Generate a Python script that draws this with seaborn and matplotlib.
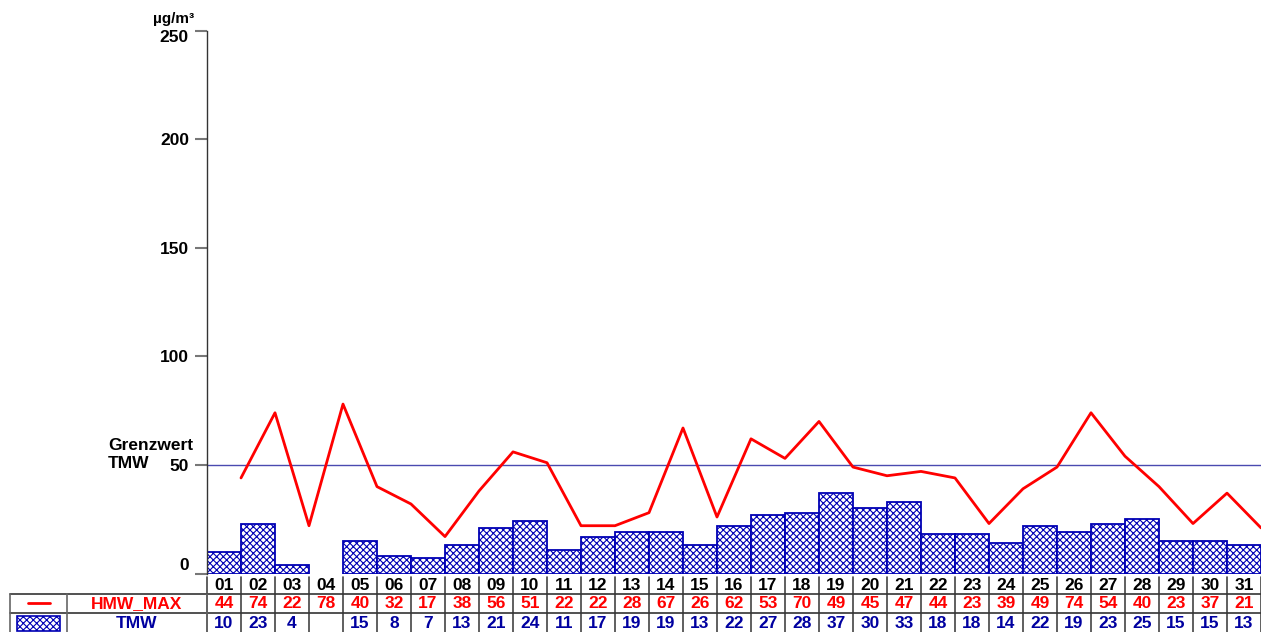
import numpy as np
import pandas as pd
import matplotlib
matplotlib.use("Agg")
import matplotlib.pyplot as plt
import seaborn as sns
from matplotlib.transforms import blended_transform_factory
from matplotlib.patches import Rectangle

# ---------------- data ----------------
days = list(range(1, 32))
day_labels = [f"{d:02d}" for d in days]
hmw_max = [44, 74, 22, 78, 40, 32, 17, 38, 56, 51, 22, 22, 28, 67, 26, 62,
           53, 70, 49, 45, 47, 44, 23, 39, 49, 74, 54, 40, 23, 37, 21]
tmw = [10, 23, 4, np.nan, 15, 8, 7, 13, 21, 24, 11, 17, 19, 19, 13, 22,
       27, 28, 37, 30, 33, 18, 18, 14, 22, 19, 23, 25, 15, 15, 13]
limit_value = 50
y_ticks = [0, 50, 100, 150, 200, 250]
unit_label = "µg/m³"
limit_label_lines = ["Grenzwert", "TMW"]
series_names = ["HMW_MAX", "TMW"]

# ---------------- style ----------------
sns.set_style("white")
plt.rcParams["font.family"] = ["Liberation Sans", "DejaVu Sans"]
plt.rcParams["font.weight"] = "bold"
plt.rcParams["hatch.linewidth"] = 0.8
plt.rcParams["text.color"] = "black"

RED = "#ff0000"
BLUE_TXT = "#0000a0"
BAR_EDGE = "#0000b4"
FS = 12.5
W, H = 1261, 632

def fy(px):
    return 1 - px / H

def fx(px):
    return px / W

fig = plt.figure(figsize=(W / 100, H / 100), dpi=100)
ax = fig.add_axes([fx(207), fy(573.5), 1 - fx(207), fy(30.5) - fy(573.5)])

df = pd.DataFrame({"day": days, "tmw": tmw})
sns.barplot(data=df, x="day", y="tmw", native_scale=True, width=1,
            color="white", saturation=1, edgecolor=BAR_EDGE, linewidth=1.3,
            hatch="xxxxx", errorbar=None, ax=ax)
for p in ax.patches:
    p.set_zorder(2)

sns.lineplot(x=np.array(days) + 0.5, y=hmw_max, color=RED, lw=2, ax=ax, zorder=3)
ax.axhline(limit_value, color="#4a4ab0", lw=1, zorder=1)

ax.set_xlim(0.5, 31.5)
ax.set_ylim(0, 250)
ax.set_xticks([])
ax.set_yticks(y_ticks)
ax.set_yticklabels([str(t) for t in y_ticks])
ax.set_xlabel("")
ax.set_ylabel("")
for s in ["top", "right", "bottom"]:
    ax.spines[s].set_visible(False)
ax.spines["left"].set_color("#333333")
ax.spines["left"].set_linewidth(1)
ax.tick_params(axis="y", direction="out", length=9, width=1.5, color="#777777",
               labelsize=FS, labelcolor="black", pad=4, left=True)
labels = ax.get_yticklabels()
labels[0].set_va("bottom")
labels[-1].set_va("top")

fig.text(fx(174), fy(19), unit_label, ha="center", va="center", fontsize=11,
         fontweight="bold", color="black")
fig.text(fx(108), fy(446), limit_label_lines[0], ha="left", va="center",
         fontsize=FS, fontweight="bold", color="black")
fig.text(fx(108), fy(464), limit_label_lines[1], ha="left", va="center",
         fontsize=FS, fontweight="bold", color="black")

# ---------------- table ----------------
tr = blended_transform_factory(ax.transData, fig.transFigure)
for d, lab, h, t in zip(days, day_labels, hmw_max, tmw):
    ax.text(d, fy(585), lab, transform=tr, ha="center", va="center",
            fontsize=FS, fontweight="bold", color="black", clip_on=False)
    ax.text(d, fy(604), str(h), transform=tr, ha="center", va="center",
            fontsize=FS, fontweight="bold", color=RED, clip_on=False)
    if not np.isnan(t):
        ax.text(d, fy(623), str(int(t)), transform=tr, ha="center", va="center",
                fontsize=FS, fontweight="bold", color=BLUE_TXT, clip_on=False)

# column separators
for d in range(0, 32):
    ax.plot([d + 0.5, d + 0.5], [fy(577), fy(632)], transform=tr, color="#444444",
            lw=1.2, clip_on=False)

# horizontal rules
for ypx in [593.5, 613]:
    fig.add_artist(plt.Line2D([fx(10), 1], [fy(ypx), fy(ypx)], color="#333333",
                              lw=1.2))
for xpx in [10, 67, 207]:
    fig.add_artist(plt.Line2D([fx(xpx), fx(xpx)], [fy(593.5), fy(632)],
                              color="#666666", lw=1.2))

# legend column
fig.add_artist(plt.Line2D([fx(28), fx(50)], [fy(603), fy(603)], color=RED, lw=2))
fig.add_artist(Rectangle((fx(17), fy(631)), fx(43), fy(616) - fy(631),
                         transform=fig.transFigure, facecolor="white",
                         edgecolor=BAR_EDGE, hatch="xxxxx", lw=1.2))
fig.text(fx(137), fy(604), series_names[0], ha="center", va="center",
         fontsize=FS, fontweight="bold", color=RED)
fig.text(fx(137), fy(623), series_names[1], ha="center", va="center",
         fontsize=FS, fontweight="bold", color=BLUE_TXT)

fig.savefig("out.png", dpi=100)
